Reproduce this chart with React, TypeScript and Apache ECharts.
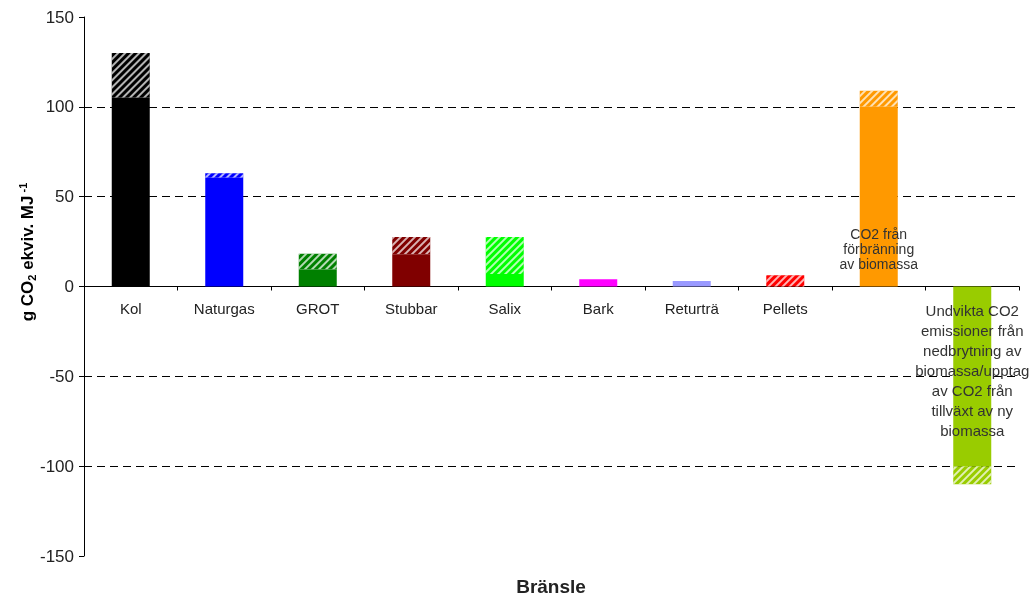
import React, { useEffect, useRef } from "react";
import * as echarts from "echarts";

const categories = ["Kol", "Naturgas", "GROT", "Stubbar", "Salix", "Bark", "Returträ", "Pellets", "", ""];
const solidValues = [105, 60.5, 9.5, 18, 7, 4, 3, 0, 100, -100];
const hatchValues = [25, 2.5, 8.7, 9.6, 20.6, 0, 0, 6.3, 9, -10];
const colors = ["#000000", "#0000FF", "#008000", "#800000", "#00FF00", "#FF00FF", "#9999FF", "#FF0000", "#FF9900", "#99CC00"];
const yTicks = [-150, -100, -50, 0, 50, 100, 150];
const orangeLabel = "CO2 från\nförbränning\nav biomassa";
const greenLabel = "Undvikta CO2\nemissioner från\nnedbrytning av\nbiomassa/upptag\nav CO2 från\ntillväxt av ny\nbiomassa";

const FONT = "Liberation Sans, Arial, sans-serif";

export default function App() {
  const ref = useRef<HTMLDivElement>(null);
  useEffect(() => {
    if (!ref.current) return;
    const chart = echarts.init(ref.current, undefined, { renderer: "svg" });
    const hatchDecal = {
      symbol: "rect",
      symbolSize: 1,
      dashArrayX: [1, 0],
      dashArrayY: [2, 2.5],
      rotation: -Math.PI / 4,
      color: "rgba(255,255,255,0.7)",
    };
    const solidData = solidValues.map((v, i) => {
      const item: any = { value: v, itemStyle: { color: colors[i] } };
      if (i === 8) {
        item.label = {
          show: true,
          position: "insideBottom",
          distance: 15,
          formatter: orangeLabel,
          color: "#333",
          fontSize: 14,
          lineHeight: 15,
          fontFamily: FONT,
        };
      }
      if (i === 9) {
        item.label = {
          show: true,
          position: "insideTop",
          distance: 14,
          formatter: greenLabel,
          color: "#333",
          fontSize: 15,
          lineHeight: 20,
          fontFamily: FONT,
        };
      }
      return item;
    });
    const hatchData = hatchValues.map((v, i) => ({
      value: v,
      itemStyle: { color: colors[i], decal: hatchDecal },
    }));
    const gridColors = yTicks.map((t) => (t === 0 || Math.abs(t) === 150 ? "rgba(0,0,0,0)" : "#000"));
    const option: any = {
      animation: false,
      grid: { left: 84, right: 15, top: 17, bottom: 43 },
      xAxis: {
        type: "category",
        data: categories,
        position: "bottom",
        offset: 0,
        axisLine: { onZero: false, lineStyle: { color: "#000", width: 1 } },
        axisTick: { show: true, length: 4, interval: 0, lineStyle: { color: "#000" } },
        axisLabel: { interval: 0, margin: 14, color: "#222", fontSize: 15, fontFamily: FONT },
        splitLine: { show: false },
      },
      yAxis: {
        type: "value",
        min: -150,
        max: 150,
        interval: 50,
        axisLine: { show: true, lineStyle: { color: "#000", width: 1 } },
        axisTick: { show: true, length: 5, lineStyle: { color: "#000" } },
        axisLabel: { margin: 10, color: "#222", fontSize: 17, fontFamily: FONT },
        splitLine: { show: true, lineStyle: { color: gridColors, type: [8, 5], width: 1 } },
      },
      series: [
        { type: "bar", stack: "a", barWidth: 38, data: solidData, z: 3 },
        { type: "bar", stack: "a", barWidth: 38, data: hatchData, z: 2 },
      ],
      graphic: [
        {
          type: "text",
          x: 27,
          y: 252,
          rotation: Math.PI / 2,
          style: {
            text: "{a|g CO}{s|2}{a| ekviv. MJ}{p| -1}",
            align: "center",
            verticalAlign: "middle",
            rich: {
              a: { fontSize: 17, fontWeight: "bold", fontFamily: FONT, fill: "#000", lineHeight: 20, verticalAlign: "middle" },
              s: { fontSize: 11, fontWeight: "bold", fontFamily: FONT, fill: "#000", lineHeight: 20, verticalAlign: "bottom" },
              p: { fontSize: 11, fontWeight: "bold", fontFamily: FONT, fill: "#000", lineHeight: 20, verticalAlign: "top" },
            },
          },
        },
        {
          type: "text",
          x: 551,
          y: 586,
          style: {
            text: "Bränsle",
            align: "center",
            verticalAlign: "middle",
            fontSize: 19,
            fontWeight: "bold",
            fontFamily: FONT,
            fill: "#222",
          },
        },
      ],
    };
    chart.setOption(option);
    const y0 = chart.convertToPixel({ yAxisIndex: 0 }, 0) as number;
    const yMin = chart.convertToPixel({ yAxisIndex: 0 }, -150) as number;
    chart.setOption({ xAxis: { offset: -(yMin - y0) } });
    return () => chart.dispose();
  }, []);
  return (
    <div
      ref={ref}
      style={{ position: "fixed", left: 0, top: 0, width: 1034, height: 599, overflow: "hidden" }}
    />
  );
}
